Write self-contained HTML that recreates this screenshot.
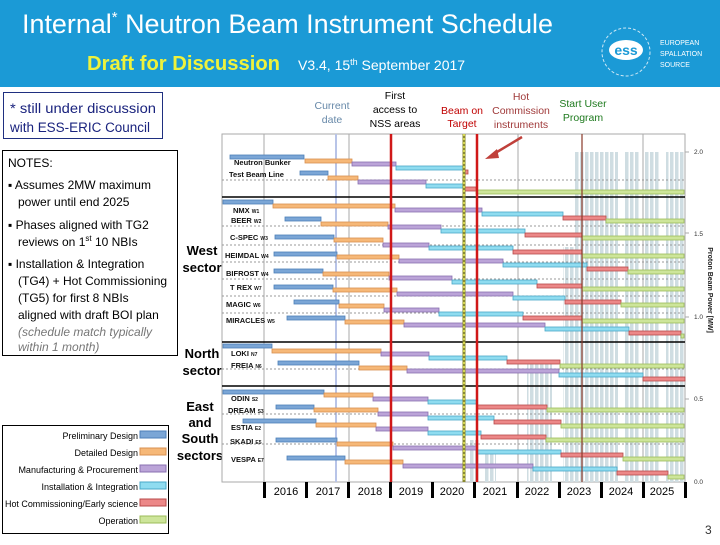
<!DOCTYPE html>
<html><head><meta charset="utf-8"><style>
body{margin:0;width:720px;height:540px;overflow:hidden;background:#fff;font-family:"Liberation Sans",sans-serif}
</style></head><body>
<svg width="720" height="540" xmlns="http://www.w3.org/2000/svg" font-family="Liberation Sans, sans-serif">
<defs>
<pattern id="st" width="5" height="10" patternUnits="userSpaceOnUse"><rect x="0" y="0" width="3.5" height="10" fill="#cfdde2"/></pattern>
</defs>
<!-- header -->
<rect x="0" y="0" width="720" height="87" fill="#1b9ad6"/>
<text x="22" y="33" fill="#fff" font-size="27" textLength="531" lengthAdjust="spacingAndGlyphs">Internal<tspan font-size="15" dy="-11">*</tspan><tspan dy="11"> Neutron Beam Instrument Schedule</tspan></text>
<text x="87" y="70" fill="#eef23c" font-size="20" font-weight="bold" textLength="193" lengthAdjust="spacingAndGlyphs">Draft for Discussion</text>
<text x="298" y="70" fill="#fff" font-size="14">V3.4, 15<tspan font-size="9" dy="-5">th</tspan><tspan dy="5"> September 2017</tspan></text>
<circle cx="626" cy="52" r="24" fill="none" stroke="#cfe8f5" stroke-width="1" stroke-dasharray="3 2"/>
<ellipse cx="626" cy="50" rx="17" ry="10" fill="#fff"/>
<text x="626" y="55" fill="#1b9ad6" font-size="14" font-weight="bold" text-anchor="middle">ess</text>
<text x="660" y="45" fill="#fff" font-size="7">EUROPEAN</text>
<text x="660" y="56" fill="#fff" font-size="7">SPALLATION</text>
<text x="660" y="67" fill="#fff" font-size="7">SOURCE</text>

<!-- discussion box -->
<rect x="3.5" y="92.5" width="159" height="46" fill="none" stroke="#1f2f80" stroke-width="1"/>
<text x="10" y="113" fill="#1a237e" font-size="13.5" textLength="146" lengthAdjust="spacingAndGlyphs">* still under discussion</text>
<text x="10" y="132" fill="#1a237e" font-size="13.5" textLength="140" lengthAdjust="spacingAndGlyphs">with ESS-ERIC Council</text>

<!-- annotations -->
<g font-size="10.5" text-anchor="middle">
<text x="332" y="109" fill="#6688a8">Current</text><text x="332" y="123" fill="#6688a8">date</text>
<text x="395" y="99" fill="#000">First</text><text x="395" y="113" fill="#000">access to</text><text x="395" y="127" fill="#000">NSS areas</text>
<text x="462" y="114" fill="#c00000">Beam on</text><text x="462" y="127" fill="#c00000">Target</text>
<text x="521" y="100" fill="#a03a3a">Hot</text><text x="521" y="114" fill="#a03a3a">Commission</text><text x="521" y="128" fill="#a03a3a">instruments</text>
<text x="583" y="107" fill="#1e7a1e">Start User</text><text x="583" y="121" fill="#1e7a1e">Program</text>
</g>

<!-- notes -->
<rect x="2.5" y="150.5" width="175" height="205" fill="#fff" stroke="#000"/>
<g font-size="12" fill="#000">
<text x="8" y="167">NOTES:</text>
<text x="8" y="189">▪ Assumes 2MW maximum</text>
<text x="18" y="206">power until end 2025</text>
<text x="8" y="229">▪ Phases aligned with TG2</text>
<text x="18" y="246">reviews on 1<tspan font-size="8" dy="-5">st</tspan><tspan dy="5"> 10 NBIs</tspan></text>
<text x="8" y="268">▪ Installation &amp; Integration</text>
<text x="18" y="285">(TG4) + Hot Commissioning</text>
<text x="18" y="302">(TG5) for first 8 NBIs</text>
<text x="18" y="319">aligned with draft BOI plan</text>
<text x="18" y="336" fill="#777" font-style="italic">(schedule match typically</text>
<text x="18" y="351" fill="#777" font-style="italic">within 1 month)</text>
</g>

<!-- sector labels -->
<g font-size="13" text-anchor="middle" fill="#000" font-weight="bold">
<text x="202" y="255">West</text><text x="202" y="272">sector</text>
<text x="202" y="358">North</text><text x="202" y="375">sector</text>
<text x="200" y="411">East</text><text x="200" y="427">and</text><text x="200" y="443">South</text><text x="200" y="460">sectors</text>
</g>

<!-- legend -->
<rect x="2.5" y="425.5" width="166" height="108" fill="#fff" stroke="#000"/>
<g font-size="9" text-anchor="end">
<text x="138" y="439">Preliminary Design</text><rect x="140" y="431" width="26" height="7" fill="#7ba6d6" stroke="#4d7fb8"/>
<text x="138" y="456">Detailed Design</text><rect x="140" y="448" width="26" height="7" fill="#f6b878" stroke="#d89050"/>
<text x="138" y="473">Manufacturing &amp; Procurement</text><rect x="140" y="465" width="26" height="7" fill="#bba4d8" stroke="#8a70b0"/>
<text x="138" y="490">Installation &amp; Integration</text><rect x="140" y="482" width="26" height="7" fill="#8fdcf0" stroke="#4aa8c8"/>
<text x="138" y="507" textLength="133" lengthAdjust="spacingAndGlyphs">Hot Commissioning/Early science</text><rect x="140" y="499" width="26" height="7" fill="#ec8888" stroke="#b84a4a"/>
<text x="138" y="524">Operation</text><rect x="140" y="516" width="26" height="7" fill="#cde59a" stroke="#9cbc5a"/>
</g>

<!-- chart -->
<rect x="222" y="134" width="463" height="348" fill="#fff" stroke="#aaa"/>
<g fill="url(#st)">
<rect x="470" y="440" width="10" height="42"/>
<rect x="484" y="452" width="12" height="30"/>
<rect x="527" y="363" width="25" height="119"/>
<rect x="563" y="247" width="12" height="235"/>
<rect x="575" y="152" width="43" height="330"/>
<rect x="625" y="152" width="15" height="330"/>
<rect x="645" y="152" width="15" height="330"/>
<rect x="666" y="152" width="19" height="330"/>
</g>
<g stroke="#aaa" stroke-width="1">
<line x1="264" y1="134" x2="264" y2="482"/><line x1="349" y1="134" x2="349" y2="482"/>
<line x1="518" y1="134" x2="518" y2="482"/><line x1="643" y1="134" x2="643" y2="482"/>
</g>
<line x1="336" y1="134" x2="336" y2="482" stroke="#b8c4e8" stroke-width="2"/>
<g stroke="#999" stroke-dasharray="2 2" stroke-width="1">
<line x1="222" y1="180" x2="685" y2="180"/><line x1="222" y1="226" x2="685" y2="226"/>
<line x1="222" y1="245" x2="685" y2="245"/><line x1="222" y1="262" x2="685" y2="262"/>
<line x1="222" y1="279" x2="685" y2="279"/><line x1="222" y1="296" x2="685" y2="296"/>
<line x1="222" y1="313" x2="685" y2="313"/><line x1="222" y1="369" x2="685" y2="369"/>
<line x1="222" y1="414" x2="685" y2="414"/><line x1="222" y1="444" x2="685" y2="444"/>
</g>
<g stroke="#000" stroke-width="1.5">
<line x1="222" y1="197" x2="685" y2="197"/><line x1="222" y1="342" x2="685" y2="342"/><line x1="222" y1="386" x2="685" y2="386"/>
</g>

<g stroke-width="0.8">
<g fill="#7ba6d6" stroke="#4d7fb8">
<rect x="230" y="155" width="74" height="4"/><rect x="300" y="171" width="28" height="4"/>
<rect x="223" y="200" width="50" height="4"/><rect x="285" y="217" width="36" height="4"/><rect x="275" y="235" width="59" height="4"/>
<rect x="274" y="252" width="63" height="4"/><rect x="274" y="269" width="49" height="4"/><rect x="274" y="285" width="59" height="4"/>
<rect x="294" y="300" width="45" height="4"/><rect x="287" y="316" width="58" height="4"/>
<rect x="223" y="344" width="49" height="4"/><rect x="278" y="361" width="81" height="4"/>
<rect x="223" y="390" width="101" height="4"/><rect x="276" y="405" width="38" height="4"/><rect x="243" y="419" width="73" height="4"/>
<rect x="276" y="438" width="61" height="4"/><rect x="287" y="456" width="58" height="4"/>
</g>
<g fill="#f6b878" stroke="#d89050">
<rect x="305" y="159" width="47" height="4"/><rect x="328" y="176" width="30" height="4"/>
<rect x="273" y="204" width="122" height="4"/><rect x="321" y="222" width="67" height="4"/><rect x="334" y="238" width="49" height="4"/>
<rect x="337" y="255" width="62" height="4"/><rect x="323" y="272" width="66" height="4"/><rect x="333" y="288" width="64" height="4"/>
<rect x="339" y="304" width="45" height="4"/><rect x="345" y="320" width="59" height="4"/>
<rect x="272" y="349" width="109" height="4"/><rect x="359" y="366" width="48" height="4"/>
<rect x="324" y="393" width="49" height="4"/><rect x="314" y="408" width="64" height="4"/><rect x="316" y="423" width="60" height="4"/>
<rect x="337" y="442" width="56" height="4"/><rect x="345" y="460" width="58" height="4"/>
</g>
<g fill="#bba4d8" stroke="#8a70b0">
<rect x="352" y="162" width="44" height="4"/><rect x="358" y="180" width="68" height="4"/>
<rect x="395" y="208" width="87" height="4"/><rect x="388" y="225" width="53" height="4"/><rect x="383" y="243" width="46" height="4"/>
<rect x="399" y="259" width="104" height="4"/><rect x="389" y="276" width="63" height="4"/><rect x="397" y="292" width="116" height="4"/>
<rect x="384" y="308" width="55" height="4"/><rect x="404" y="323" width="141" height="4"/>
<rect x="381" y="352" width="48" height="4"/><rect x="407" y="369" width="152" height="4"/>
<rect x="373" y="397" width="55" height="4"/><rect x="378" y="412" width="50" height="4"/><rect x="376" y="427" width="52" height="4"/>
<rect x="393" y="446" width="84" height="4"/><rect x="403" y="464" width="130" height="4"/>
</g>
<g fill="#8fdcf0" stroke="#4aa8c8">
<rect x="396" y="166" width="68" height="4"/><rect x="426" y="184" width="38" height="4"/>
<rect x="482" y="212" width="81" height="4"/><rect x="441" y="229" width="84" height="4"/><rect x="429" y="246" width="84" height="4"/>
<rect x="503" y="263" width="84" height="4"/><rect x="452" y="280" width="85" height="4"/><rect x="513" y="296" width="52" height="4"/>
<rect x="439" y="312" width="84" height="4"/><rect x="545" y="327" width="84" height="4"/>
<rect x="429" y="356" width="78" height="4"/><rect x="559" y="373" width="84" height="4"/>
<rect x="428" y="400" width="49" height="4"/><rect x="428" y="416" width="66" height="4"/><rect x="428" y="431" width="53" height="4"/>
<rect x="477" y="450" width="84" height="4"/><rect x="533" y="467" width="84" height="4"/>
</g>
<g fill="#ec8888" stroke="#b84a4a">
<rect x="464" y="170" width="4" height="4"/><rect x="464" y="187" width="12" height="4"/>
<rect x="563" y="216" width="43" height="4"/><rect x="525" y="233" width="57" height="4"/><rect x="513" y="250" width="69" height="4"/>
<rect x="587" y="267" width="41" height="4"/><rect x="537" y="284" width="45" height="4"/><rect x="565" y="300" width="56" height="4"/>
<rect x="523" y="316" width="59" height="4"/><rect x="629" y="331" width="52" height="4"/>
<rect x="507" y="360" width="53" height="4"/><rect x="643" y="377" width="42" height="4"/>
<rect x="477" y="405" width="70" height="4"/><rect x="494" y="420" width="67" height="4"/><rect x="481" y="435" width="65" height="4"/>
<rect x="561" y="453" width="62" height="4"/><rect x="617" y="471" width="51" height="4"/>
</g>
<g fill="#cde59a" stroke="#9cbc5a">
<rect x="476" y="190" width="208" height="4"/>
<rect x="606" y="219" width="78" height="4"/><rect x="582" y="236" width="102" height="4"/><rect x="582" y="254" width="102" height="4"/>
<rect x="628" y="270" width="56" height="4"/><rect x="582" y="287" width="102" height="4"/><rect x="621" y="303" width="63" height="4"/>
<rect x="582" y="319" width="102" height="4"/><rect x="681" y="334" width="3" height="4"/>
<rect x="560" y="364" width="124" height="4"/>
<rect x="547" y="408" width="137" height="4"/><rect x="561" y="424" width="123" height="4"/><rect x="546" y="438" width="138" height="4"/>
<rect x="623" y="457" width="61" height="4"/><rect x="668" y="475" width="16" height="4"/>
</g>
</g>

<line x1="391" y1="134" x2="391" y2="482" stroke="#d01818" stroke-width="2.5"/>
<line x1="464" y1="134" x2="464" y2="482" stroke="#8a8a30" stroke-width="3"/>
<line x1="464" y1="134" x2="464" y2="482" stroke="#eef060" stroke-width="1.5" stroke-dasharray="2 2"/>
<line x1="477" y1="134" x2="477" y2="482" stroke="#d01818" stroke-width="2.5"/>
<line x1="582" y1="134" x2="582" y2="482" stroke="#8a3a2a" stroke-width="1.2"/>
<line x1="522" y1="137" x2="492" y2="155" stroke="#c0403a" stroke-width="2.5"/>
<polygon points="485,159 497,149 499,158" fill="#c0403a"/>

<g font-size="7.5" font-weight="bold" fill="#111">
<text x="234" y="165">Neutron Bunker</text><text x="229" y="177">Test Beam Line</text>
<text x="233" y="213">NMX <tspan font-size="5">W1</tspan></text>
<text x="231" y="223">BEER <tspan font-size="5">W2</tspan></text>
<text x="230" y="240">C-SPEC <tspan font-size="5">W3</tspan></text>
<text x="225" y="258">HEIMDAL <tspan font-size="5">W4</tspan></text>
<text x="226" y="276">BIFROST <tspan font-size="5">W4</tspan></text>
<text x="230" y="290">T REX <tspan font-size="5">W7</tspan></text>
<text x="226" y="307">MAGIC <tspan font-size="5">W6</tspan></text>
<text x="226" y="323">MIRACLES <tspan font-size="5">W5</tspan></text>
<text x="231" y="356">LOKI <tspan font-size="5">N7</tspan></text>
<text x="231" y="368">FREIA <tspan font-size="5">N6</tspan></text>
<text x="231" y="401">ODIN <tspan font-size="5">S2</tspan></text>
<text x="228" y="413">DREAM <tspan font-size="5">S3</tspan></text>
<text x="231" y="430">ESTIA <tspan font-size="5">E2</tspan></text>
<text x="230" y="444">SKADI <tspan font-size="5">E5</tspan></text>
<text x="231" y="462">VESPA <tspan font-size="5">E7</tspan></text>
</g>

<g fill="#000">
<rect x="263" y="482" width="3" height="16"/><rect x="305" y="482" width="3" height="16"/><rect x="347" y="482" width="3" height="16"/>
<rect x="389" y="482" width="3" height="16"/><rect x="431" y="482" width="3" height="16"/><rect x="473" y="482" width="3" height="16"/>
<rect x="516" y="482" width="3" height="16"/><rect x="558" y="482" width="3" height="16"/><rect x="600" y="482" width="3" height="16"/>
<rect x="642" y="482" width="3" height="16"/><rect x="684" y="482" width="3" height="16"/>
</g>
<g font-size="11" text-anchor="middle" fill="#000">
<text x="286" y="495">2016</text><text x="328" y="495">2017</text><text x="370" y="495">2018</text><text x="411" y="495">2019</text>
<text x="452" y="495">2020</text><text x="495" y="495">2021</text><text x="537" y="495">2022</text><text x="579" y="495">2023</text>
<text x="621" y="495">2024</text><text x="662" y="495">2025</text>
</g>
<g font-size="6.5" fill="#333">
<text x="694" y="154">2.0</text><text x="694" y="236">1.5</text><text x="694" y="319">1.0</text><text x="694" y="401">0.5</text><text x="694" y="484">0.0</text>
</g>
<g stroke="#aaa"><line x1="685" y1="152" x2="689" y2="152"/><line x1="685" y1="233" x2="689" y2="233"/><line x1="685" y1="317" x2="689" y2="317"/><line x1="685" y1="399" x2="689" y2="399"/></g>
<text transform="translate(708,290) rotate(90)" font-size="7" font-weight="bold" text-anchor="middle" fill="#222">Proton Beam Power [MW]</text>

<text x="705" y="534" font-size="12" fill="#333">3</text>
</svg>
</body></html>
